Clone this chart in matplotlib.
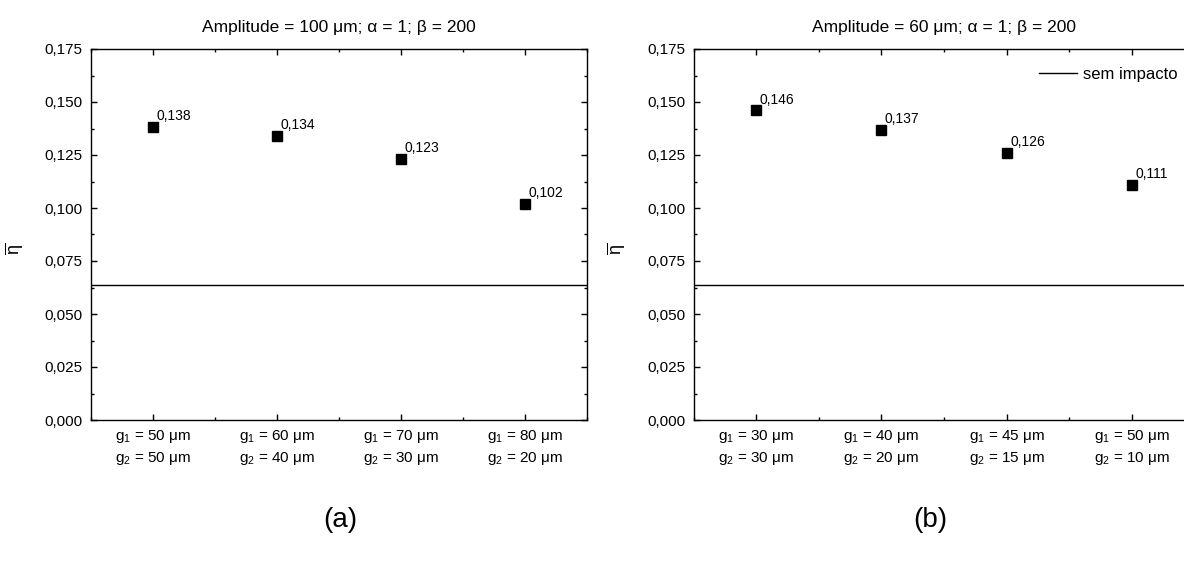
import matplotlib
matplotlib.use("Agg")
import matplotlib.pyplot as plt
from matplotlib.ticker import FuncFormatter, MultipleLocator

plt.rcParams['font.family'] = ['Liberation Sans', 'DejaVu Sans']
plt.rcParams['mathtext.fontset'] = 'custom'
plt.rcParams['mathtext.rm'] = 'Liberation Sans'
plt.rcParams['mathtext.it'] = 'Liberation Sans'
plt.rcParams['mathtext.bf'] = 'Liberation Sans:bold'

# (a) amplitude 100 um
labels_a = ["g$_1$ = 50 μm\ng$_2$ = 50 μm", "g$_1$ = 60 μm\ng$_2$ = 40 μm",
            "g$_1$ = 70 μm\ng$_2$ = 30 μm", "g$_1$ = 80 μm\ng$_2$ = 20 μm"]
eta_a = [0.138, 0.134, 0.123, 0.102]

# (b) amplitude 60 um
labels_b = ["g$_1$ = 30 μm\ng$_2$ = 30 μm", "g$_1$ = 40 μm\ng$_2$ = 20 μm",
            "g$_1$ = 45 μm\ng$_2$ = 15 μm", "g$_1$ = 50 μm\ng$_2$ = 10 μm"]
eta_b = [0.146, 0.137, 0.126, 0.111]

# no impact reference
eta_ref = 0.0635

titles = ["Amplitude = 100 μm; α = 1; β = 200", "Amplitude = 60 μm; α = 1; β = 200"]

W, H = 1184, 563
fig = plt.figure(figsize=(W / 100, H / 100), dpi=100)
ax_a = fig.add_axes([91 / W, 143 / H, 496 / W, 371 / H])
ax_b = fig.add_axes([693.5 / W, 143 / H, 501 / W, 371 / H])

comma = FuncFormatter(lambda v, p: f"{v:.3f}".replace('.', ','))

for ax, labels, vals, title in [(ax_a, labels_a, eta_a, titles[0]),
                                (ax_b, labels_b, eta_b, titles[1])]:
    x = list(range(1, len(vals) + 1))
    ax.axhline(eta_ref, color='k', lw=1, label='sem impacto')
    ax.plot(x, vals, 's', color='k', ms=6.5, ls='none')
    for xi, v in zip(x, vals):
        ax.annotate(f"{v:.3f}".replace('.', ','), (xi, v), xytext=(2.5, 5),
                    textcoords='offset points', ha='left', va='baseline', fontsize=10)
    ax.set_xlim(0.5, len(vals) + 0.5)
    ax.set_ylim(0, 0.175)
    ax.set_xticks(x)
    ax.set_xticklabels(labels, fontsize=11, linespacing=1.4)
    ax.xaxis.set_minor_locator(MultipleLocator(0.5))
    ax.yaxis.set_major_locator(MultipleLocator(0.025))
    ax.yaxis.set_minor_locator(MultipleLocator(0.0125))
    ax.yaxis.set_major_formatter(comma)
    ax.tick_params(which='both', direction='in', top=True, right=True)
    ax.tick_params(which='major', length=4, width=1)
    ax.tick_params(which='minor', length=2.5, width=1)
    ax.tick_params(axis='y', labelsize=11, pad=6)
    ax.tick_params(axis='x', pad=6)
    for s in ax.spines.values():
        s.set_linewidth(1)
    ax.set_title(title, fontsize=12.5, pad=12)
    ax.set_ylabel(r'$\overline{\eta}$', fontsize=13)
    ax.yaxis.set_label_coords(-0.133, 0.46)

fig.legend(*ax_b.get_legend_handles_labels(), loc='center left',
           bbox_to_anchor=(1039 / W, 1 - 74 / H), frameon=False, fontsize=12,
           borderpad=0, borderaxespad=0, handlelength=2.3, handletextpad=0.35)

fig.text(340 / W, 1 - 520 / H, "(a)", fontsize=20, ha='center', va='center')
fig.text(930 / W, 1 - 520 / H, "(b)", fontsize=20, ha='center', va='center')

fig.savefig("out.png", dpi=100)
